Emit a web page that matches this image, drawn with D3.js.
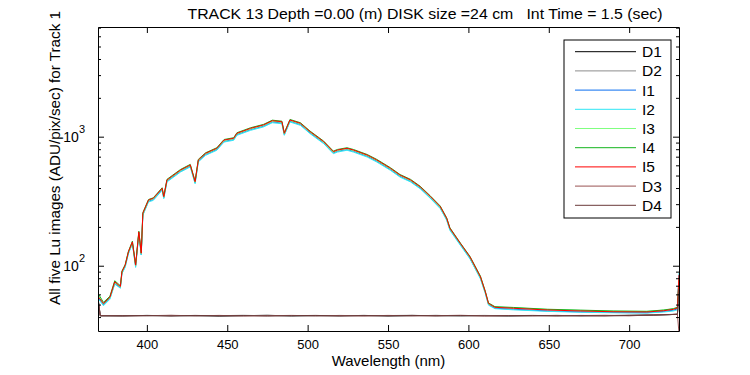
<!DOCTYPE html>
<html>
<head>
<meta charset="utf-8">
<script src="https://cdn.jsdelivr.net/npm/d3@7"></script>
<style>
  body { margin: 0; background: #fff; }
  svg { font-family: "Liberation Sans", Arial, sans-serif; }
</style>
</head>
<body>
<svg id="chart" width="750" height="375"></svg>
<script>
// wavelengths (nm) for the five illuminated images
const wl = [370, 373, 377, 380, 383.5, 384.5, 386.5, 388.5, 391, 393, 395, 396.5, 397.5, 401, 404, 409.5, 410.5, 412.5,
  421, 427, 430, 432, 436.5, 443.5, 448, 454, 456, 464.5, 472.5, 478, 484, 485.5, 489, 495.5, 501.5, 510, 516, 518.5,
  524.5, 528.5, 537, 543, 551.5, 557.5, 564, 570, 576.5, 582.5, 586.5, 588.5, 595, 601, 607.5, 610.5, 612.5, 616.5,
  628, 649, 669.5, 690, 711, 721.5, 727.5, 730, 731];

const I1 = [56, 50, 56, 73, 67.5, 88, 99, 125, 150, 99, 179, 122, 249, 316, 326, 389, 335, 452, 540, 591, 438, 645, 727,
  795, 921, 951, 1039, 1135, 1206, 1301, 1277, 1039, 1317, 1242, 1070, 895, 748, 771, 795, 771, 705, 645, 556, 493, 452,
  400, 335, 281, 228, 191, 146, 114, 80, 62, 50, 46.8, 46.0, 44.6, 43.9, 43.4, 43.2, 44.2, 45.2, 46.3, 84];
const I2 = [55, 49, 55, 72, 67, 87, 97, 124, 148, 97, 177, 121, 246, 312, 321, 384, 331, 446, 533, 583, 432, 637, 717,
  785, 909, 938, 1025, 1120, 1190, 1283, 1260, 1025, 1300, 1225, 1056, 883, 738, 760, 785, 760, 696, 637, 549, 486, 446,
  395, 331, 277, 225, 188, 144, 113, 79, 61, 49.5, 46.5, 45.5, 44.3, 43.6, 43.2, 43.0, 43.8, 44.6, 45.5, 88];
const I3 = [58, 50.5, 56.5, 74, 68.5, 89, 100, 127, 151, 100, 181, 124, 252, 320, 330, 394, 340, 457, 546, 598, 444, 653,
  736, 805, 933, 962, 1051, 1149, 1221, 1317, 1293, 1051, 1334, 1257, 1083, 906, 757, 780, 805, 780, 714, 653, 563, 499,
  457, 405, 340, 284, 231, 193, 148, 116, 81, 62.5, 50.5, 47.8, 47.2, 45.8, 45.0, 44.4, 44.3, 45.2, 46.3, 47.2, 80];
const I4 = [60, 52, 58, 76.5, 70, 91, 102, 129, 155, 102, 185, 126, 258, 326, 336, 402, 346, 467, 558, 610, 452, 667, 750,
  821, 951, 982, 1073, 1173, 1245, 1343, 1319, 1073, 1360, 1283, 1105, 924, 773, 796, 821, 796, 728, 667, 575, 509, 467,
  413, 346, 290, 235, 197, 150, 118, 83, 63.5, 51.5, 48.2, 47.5, 46.0, 45.3, 44.6, 44.3, 45.4, 46.5, 47.6, 78];
const I5 = [57, 51, 57, 75, 69, 90, 101, 128, 153, 101, 183, 125, 255, 323, 333, 398, 343, 462, 552, 604, 448, 660, 743,
  813, 942, 972, 1062, 1161, 1233, 1330, 1306, 1062, 1347, 1270, 1094, 915, 765, 788, 813, 788, 721, 660, 569, 504, 462,
  409, 343, 287, 233, 195, 149, 117, 82, 63, 51, 47.6, 46.8, 45.4, 44.6, 44.0, 43.8, 44.8, 45.9, 47, 85];

// wavelengths (nm) for the dark images
const darkWl = [370, 371, 385, 400, 415, 430, 445, 460, 475, 490, 505, 520, 535, 550, 565, 580, 595, 610, 625, 640,
  655, 670, 685, 700, 715, 725, 730, 731];
const D1 = [52, 41, 40.8, 41.2, 40.9, 41.1, 40.7, 41.0, 41.3, 40.8, 41.1, 40.9, 41.2, 40.8, 41.0, 41.2, 40.9, 41.1, 40.8,
  41.0, 41.2, 40.9, 41.1, 41.3, 41.5, 41.8, 42, 60];
const D2 = [51, 40.8, 41.1, 40.9, 41.2, 40.8, 41.0, 41.3, 40.9, 41.1, 40.8, 41.2, 40.9, 41.1, 41.3, 40.8, 41.0, 41.2, 40.9,
  41.1, 40.8, 41.2, 41.0, 41.1, 41.4, 41.7, 42.2, 55];
const D3 = [50, 41.1, 40.9, 41.0, 41.3, 40.9, 41.2, 40.8, 41.0, 41.2, 40.9, 41.1, 40.8, 41.2, 40.9, 41.0, 41.3, 40.8, 41.1,
  40.9, 41.0, 41.1, 41.3, 40.9, 41.6, 41.9, 42.1, 30];
const D4 = [51, 40.9, 41.0, 41.1, 40.8, 41.2, 40.9, 41.1, 40.8, 41.0, 41.2, 40.8, 41.1, 40.9, 41.2, 40.9, 41.1, 40.9, 41.0,
  41.2, 40.9, 41.0, 40.8, 41.2, 41.4, 41.8, 42, 66];

const seriesNames = ["D1", "D2", "I1", "I2", "I3", "I4", "I5", "D3", "D4"];
const seriesColors = ["#000000", "#8c8c8c", "#0a6ef0", "#2ee6f5", "#80ff80", "#14b41e", "#ff0000", "#995353", "#6b3a3a"];
const seriesX = [darkWl, darkWl, wl, wl, wl, wl, wl, darkWl, darkWl];
const seriesY = [D1, D2, I1, I2, I3, I4, I5, D3, D4];

const xTicks = [400, 450, 500, 550, 600, 650, 700];
const yMajor = [100, 1000];
const yMinor = [40, 50, 60, 70, 80, 90, 200, 300, 400, 500, 600, 700, 800, 900, 2000, 3000, 4000, 5000, 6000, 7000];

const PLOT = { LEFT: 98, RIGHT: 679, TOP: 27, BOTTOM: 331 };

const svg = d3.select("#chart");

const x = d3.scaleLinear().domain([369.6, 731]).range([PLOT.LEFT, PLOT.RIGHT]);
const y = d3.scaleLog().domain([31.2, 7080]).range([PLOT.BOTTOM, PLOT.TOP]);

svg.append("clipPath").attr("id", "clip")
  .append("rect")
  .attr("x", PLOT.LEFT).attr("y", PLOT.TOP)
  .attr("width", PLOT.RIGHT - PLOT.LEFT).attr("height", PLOT.BOTTOM - PLOT.TOP);

// lines
const line = d3.line().x(d => x(d[0])).y(d => y(d[1]));
const lines = svg.append("g").attr("clip-path", "url(#clip)");
seriesNames.forEach((name, i) => {
  const pts = seriesX[i].map((w, j) => [w, seriesY[i][j]]);
  lines.append("path")
    .datum(pts)
    .attr("fill", "none")
    .attr("stroke", seriesColors[i])
    .attr("stroke-width", 1)
    .attr("d", line);
});

// axes, ticks pointing inward
function styleAxis(g) {
  g.selectAll("path, line").attr("stroke", "#000");
  g.selectAll("text").attr("fill", "#000").style("font-size", "13px");
}

svg.append("g")
  .attr("transform", `translate(0,${PLOT.BOTTOM})`)
  .call(d3.axisBottom(x).tickValues(xTicks).tickSizeInner(-6).tickSizeOuter(0).tickPadding(9))
  .call(styleAxis);
svg.append("g")
  .attr("transform", `translate(0,${PLOT.TOP})`)
  .call(d3.axisTop(x).tickValues(xTicks).tickSizeInner(-6).tickSizeOuter(0).tickFormat(""))
  .call(styleAxis);

svg.append("g")
  .attr("transform", `translate(${PLOT.LEFT},0)`)
  .call(d3.axisLeft(y).tickValues(yMajor).tickSizeInner(-6).tickSizeOuter(0).tickFormat(""))
  .call(styleAxis);
svg.append("g")
  .attr("transform", `translate(${PLOT.LEFT},0)`)
  .call(d3.axisLeft(y).tickValues(yMinor).tickSizeInner(-3).tickSizeOuter(0).tickFormat(""))
  .call(g => g.select(".domain").remove())
  .call(styleAxis);
svg.append("g")
  .attr("transform", `translate(${PLOT.RIGHT},0)`)
  .call(d3.axisRight(y).tickValues(yMajor).tickSizeInner(-6).tickSizeOuter(0).tickFormat(""))
  .call(styleAxis);
svg.append("g")
  .attr("transform", `translate(${PLOT.RIGHT},0)`)
  .call(d3.axisRight(y).tickValues(yMinor).tickSizeInner(-3).tickSizeOuter(0).tickFormat(""))
  .call(g => g.select(".domain").remove())
  .call(styleAxis);

// y tick labels 10^n
yMajor.forEach(v => {
  const t = svg.append("text")
    .attr("x", PLOT.LEFT - 13)
    .attr("y", y(v) + 5)
    .attr("text-anchor", "end")
    .style("font-size", "14px");
  t.append("tspan").text("10");
  t.append("tspan").attr("dy", -9).style("font-size", "11px").text(Math.round(Math.log10(v)));
});

// titles
svg.append("text")
  .attr("x", 425)
  .attr("y", 19)
  .attr("text-anchor", "middle")
  .attr("textLength", 475)
  .attr("lengthAdjust", "spacingAndGlyphs")
  .style("font-size", "15.5px")
  .style("white-space", "pre")
  .text("TRACK 13 Depth =0.00 (m) DISK size =24 cm   Int Time = 1.5 (sec)");

svg.append("text")
  .attr("x", (PLOT.LEFT + PLOT.RIGHT) / 2)
  .attr("y", 366)
  .attr("text-anchor", "middle")
  .style("font-size", "15px")
  .text("Wavelength (nm)");

svg.append("text")
  .attr("transform", `translate(60,305) rotate(-90)`)
  .attr("text-anchor", "start")
  .attr("textLength", 294)
  .attr("lengthAdjust", "spacingAndGlyphs")
  .style("font-size", "15.5px")
  .text("All five Lu images (ADU/pix/sec) for Track 1");

// legend
const legend = svg.append("g");
legend.append("rect")
  .attr("x", 564).attr("y", 40)
  .attr("width", 107).attr("height", 178)
  .attr("fill", "#fff").attr("stroke", "#000");
seriesNames.forEach((name, i) => {
  const ly = 51.7 + i * 19.2;
  legend.append("line")
    .attr("x1", 575).attr("x2", 636)
    .attr("y1", ly).attr("y2", ly)
    .attr("stroke", seriesColors[i]);
  legend.append("text")
    .attr("x", 642).attr("y", ly + 5.5)
    .style("font-size", "15.5px")
    .text(name);
});
</script>
</body>
</html>
